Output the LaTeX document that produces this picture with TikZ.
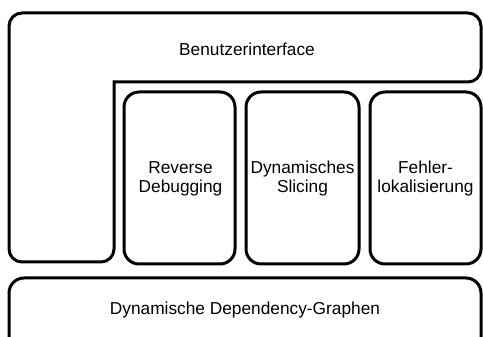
\documentclass[tikz,border=0pt]{standalone}
\usepackage{fontspec}
\setmainfont{Liberation Sans}
\begin{document}
\begin{tikzpicture}[x=1pt,y=-1pt,
  frame/.style={draw=black,line width=3pt},
  subbox/.style={frame,rounded corners=15pt},
  lbl/.style={font=\fontsize{17.3}{19}\selectfont,align=center,inner sep=0pt}]
\clip (0,0) rectangle (483,337);
\fill[white] (0,0) rectangle (483,337);
% L-shaped user interface frame
\draw[frame,rounded corners=13pt,line cap=rect]
  (114,82) -- (114,262) -- (9,262) -- (9,13) -- (481,13) -- (481,82) -- (114.5,82);
\coordinate (ui) at (247,56);
\node[lbl,anchor=base] (uitext) at (ui) {Benutzerinterface};
% three tool boxes
\draw[subbox] (124,92) rectangle (235,264);
\draw[subbox] (246,92) rectangle (359,264);
\draw[subbox] (370,92) rectangle (481,264);
\node[lbl] (rd) at (180.5,178.5) {Reverse\\Debugging};
\node[lbl] (ds) at (302.5,178.5) {Dynamisches\\Slicing};
\node[lbl] (fl) at (425.5,178.5) {Fehler-\\lokalisierung};
% bottom box
\draw[subbox] (9,278) rectangle (481,360);
\node[lbl,anchor=base] (ddg) at (245,315) {Dynamische Dependency-Graphen};
\end{tikzpicture}
\end{document}
